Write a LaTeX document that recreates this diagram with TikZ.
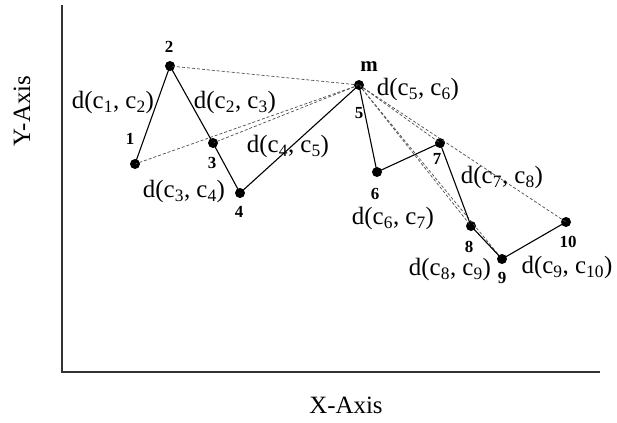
\documentclass[tikz,border=0pt]{standalone}
\usepackage{fontspec}
\setmainfont{Liberation Serif}
\usetikzlibrary{positioning}

\begin{document}
\begin{tikzpicture}[x=1bp, y=-1bp,
    dot/.style={circle, fill=black, inner sep=0pt, minimum size=10bp},
    num/.style={inner sep=0pt, font=\fontsize{17}{17}\selectfont\bfseries},
    dist/.style={inner sep=0pt, font=\fontsize{25}{25}\selectfont},
    axlabel/.style={inner sep=0pt, font=\fontsize{25}{25}\selectfont},
    axis/.style={black!80, line width=1.2bp},
    link/.style={black, line width=1.1bp},
    hint/.style={black!70, line width=0.7bp, dash pattern=on 3bp off 2bp}
]
\useasboundingbox (0,0) rectangle (617,422);
% axes
\coordinate (ytop) at (62,5);
\coordinate (org) at (62,372);
\coordinate (xend) at (600,372);
\draw[axis] (ytop) -- (org) -- (xend);
\node[axlabel, rotate=90] (ylab) at (22,111) {Y-Axis};
\node[axlabel] (xlab) at (346,405) {X-Axis};
% cluster centres
\node[dot] (p1) at (135,164) {};
\node[dot] (p2) at (170,66) {};
\node[dot] (p3) at (213,143) {};
\node[dot] (p4) at (240,193) {};
\node[dot] (p5) at (359,85) {};
\node[dot] (p6) at (377,172) {};
\node[dot] (p7) at (440,143) {};
\node[dot] (p8) at (471,226) {};
\node[dot] (p9) at (502,259) {};
\node[dot] (p10) at (566,222) {};
% distances to m
\foreach \t in {1,2,3,7,8,9,10}
    \draw[hint] (p5.center) -- (p\t.center);
% consecutive distances
\draw[link] (p1.center) -- (p2.center) -- (p3.center) -- (p4.center) -- (p5.center)
    -- (p6.center) -- (p7.center) -- (p8.center) -- (p9.center) -- (p10.center);
% numbers
\node[num] (n1) at (130,139) {1};
\node[num] (n2) at (169,47) {2};
\node[num] (n3) at (212,163) {3};
\node[num] (n4) at (239,212) {4};
\node[num] (n5) at (359,113) {5};
\node[num] (n6) at (375,194) {6};
\node[num] (n7) at (437,159) {7};
\node[num] (n8) at (469,247) {8};
\node[num] (n9) at (502,278) {9};
\node[num] (n10) at (568,242) {10};
\node[num, font=\fontsize{21}{21}\selectfont\bfseries] (nm) at (369,67) {m};
% labels
\node[dist] (d12) at (113,103) {d(c\textsubscript{1}, c\textsubscript{2})};
\node[dist] (d23) at (235,103) {d(c\textsubscript{2}, c\textsubscript{3})};
\node[dist] (d34) at (184,192) {d(c\textsubscript{3}, c\textsubscript{4})};
\node[dist] (d45) at (288,147) {d(c\textsubscript{4}, c\textsubscript{5})};
\node[dist] (d56) at (418,90) {d(c\textsubscript{5}, c\textsubscript{6})};
\node[dist] (d67) at (393,219) {d(c\textsubscript{6}, c\textsubscript{7})};
\node[dist] (d78) at (502,178) {d(c\textsubscript{7}, c\textsubscript{8})};
\node[dist] (d89) at (450,270) {d(c\textsubscript{8}, c\textsubscript{9})};
\node[dist] (d910) at (567,268) {d(c\textsubscript{9}, c\textsubscript{10})};
\end{tikzpicture}
\end{document}
